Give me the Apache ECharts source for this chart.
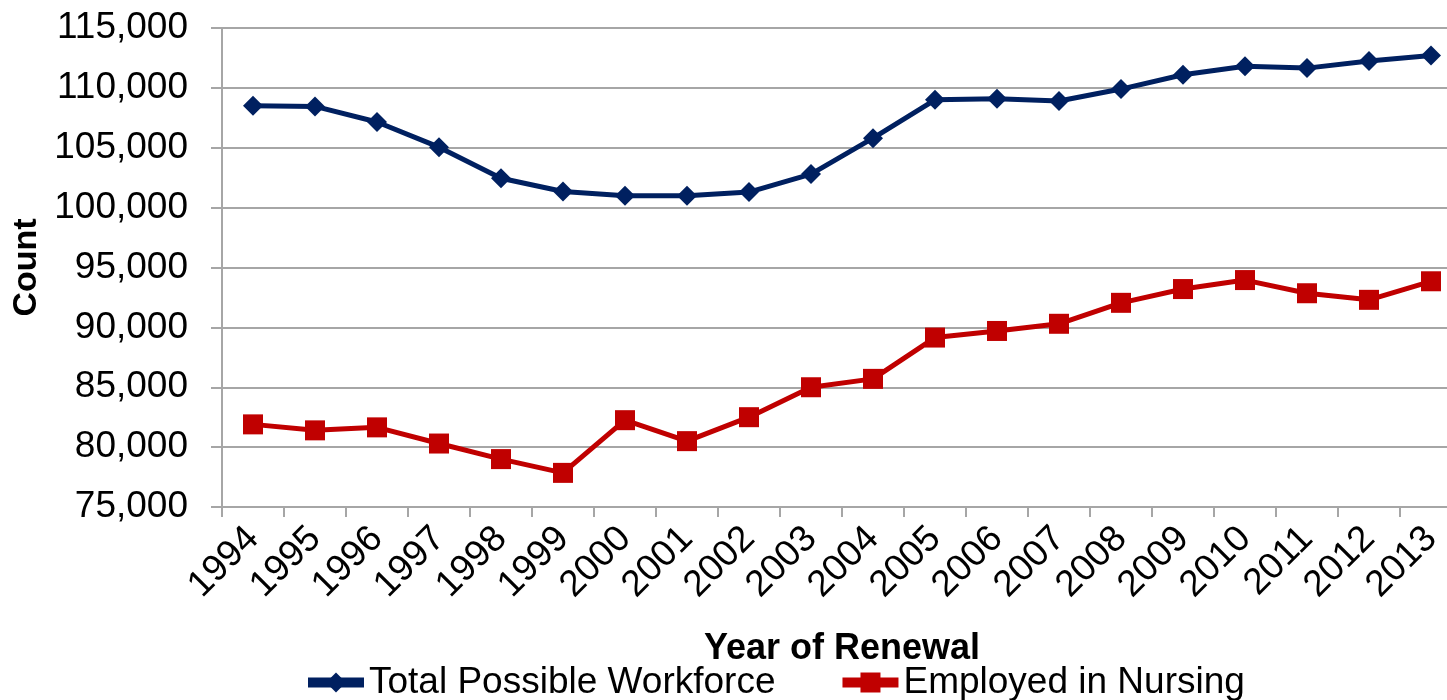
<!doctype html>
<html lang="en">
<head>
  <meta charset="UTF-8">
  <script src="https://cdn.jsdelivr.net/npm/echarts@6/dist/echarts.min.js"></script>
  <title>Workforce</title>
  <style type="text/css">
    html, body {
      width: 100%;
      height: 100%;
      margin: 0;
      padding: 0;
      overflow: hidden;
      background-color: #ffffff;
    }

    /* the plot runs a little past the right edge of the window, as in the source */
    #canvas {
      width: 1462px;
      height: 700px;
    }
  </style>
</head>

<body>
<div id="canvas"></div>

<script type="text/javascript">
  const years = ['1994', '1995', '1996', '1997', '1998', '1999', '2000', '2001', '2002', '2003',
    '2004', '2005', '2006', '2007', '2008', '2009', '2010', '2011', '2012', '2013']
  const totalWorkforce = [108500, 108450, 107150, 105050, 102450, 101350, 101000, 101000, 101300, 102800,
    105800, 109000, 109100, 108900, 109900, 111100, 111800, 111650, 112250, 112700]
  const employedNursing = [81900, 81400, 81650, 80300, 79000, 77850, 82250, 80500, 82500, 85000,
    85700, 89150, 89700, 90300, 92050, 93200, 93950, 92850, 92300, 93850]

  const font = '"Liberation Sans", Arial, sans-serif'
  const gridColor = '#a6a6a6'

  const canvas = document.getElementById('canvas')
  const chart = echarts.init(canvas)

  chart.setOption({
    animation: false,
    textStyle: { fontFamily: font },
    grid: {
      left: 222,
      right: 0,
      top: 28,
      bottom: 193,
      containLabel: false,
    },
    legend: {
      left: 298,
      top: 659,
      itemWidth: 56,
      itemHeight: 25,
      itemGap: 62,
      lineStyle: { width: 10 },
      textStyle: { fontSize: 37, color: '#000', fontFamily: font },
      data: ['Total Possible Workforce', 'Employed in Nursing'],
    },
    xAxis: {
      type: 'category',
      data: years,
      boundaryGap: true,
      name: 'Year of Renewal',
      nameLocation: 'middle',
      nameGap: 124,
      nameTextStyle: { fontSize: 36, fontWeight: 'bold', color: '#000', fontFamily: font },
      axisLine: { lineStyle: { color: gridColor, width: 2 } },
      axisTick: { show: true, length: 10, lineStyle: { color: gridColor, width: 2 } },
      axisLabel: {
        rotate: 45,
        margin: 26,
        fontSize: 37,
        color: '#000',
        fontFamily: font,
        interval: 0,
      },
    },
    yAxis: {
      type: 'value',
      min: 75000,
      max: 115000,
      interval: 5000,
      name: 'Count',
      nameLocation: 'middle',
      nameGap: 176,
      nameTextStyle: { fontSize: 34, fontWeight: 'bold', color: '#000', fontFamily: font },
      axisLine: { show: true, lineStyle: { color: gridColor, width: 2 } },
      axisTick: { show: true, length: 11, lineStyle: { color: gridColor, width: 2 } },
      splitLine: { show: true, lineStyle: { color: gridColor, width: 2 } },
      axisLabel: {
        margin: 34,
        fontSize: 37,
        color: '#000',
        fontFamily: font,
        formatter: v => v.toLocaleString('en-US'),
      },
    },
    series: [
      {
        name: 'Total Possible Workforce',
        type: 'line',
        data: totalWorkforce,
        symbol: 'diamond',
        symbolSize: 20,
        color: '#002060',
        lineStyle: { width: 5, color: '#002060' },
        itemStyle: { color: '#002060' },
      },
      {
        name: 'Employed in Nursing',
        type: 'line',
        data: employedNursing,
        symbol: 'rect',
        symbolSize: 20,
        color: '#c00000',
        lineStyle: { width: 5, color: '#c00000' },
        itemStyle: { color: '#c00000' },
      }
    ]
  })
</script>
</body>
</html>
